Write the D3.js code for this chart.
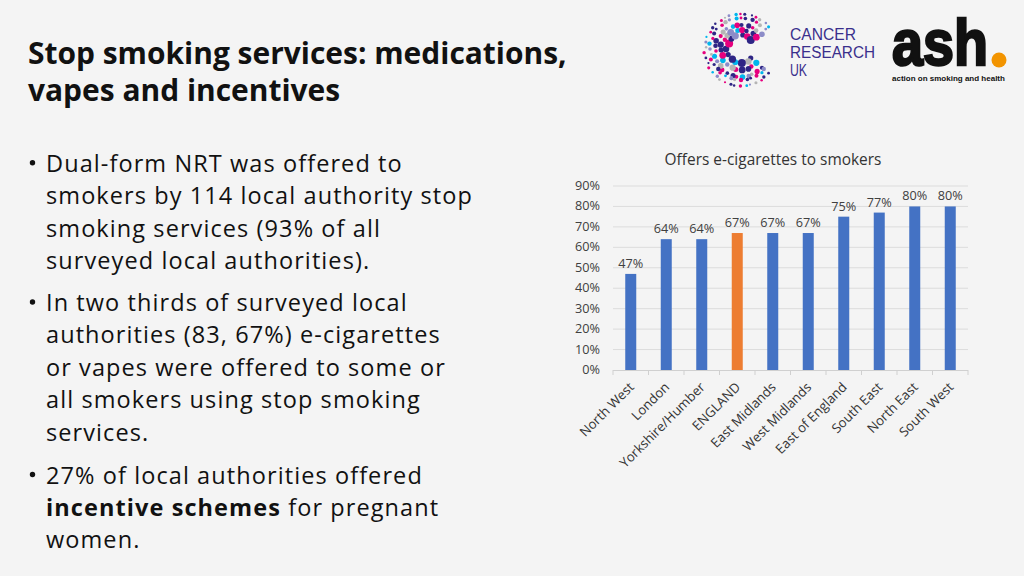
<!DOCTYPE html>
<html><head><meta charset="utf-8">
<script src="https://cdn.jsdelivr.net/npm/d3@7"></script>
<style>
html,body{margin:0;padding:0;background:#f4f4f4;}
svg{display:block;}
</style></head>
<body>
<svg id="c" width="1024" height="576"></svg>
<script>
const categories = ["North West","London","Yorkshire/Humber","ENGLAND","East Midlands","West Midlands","East of England","South East","North East","South West"];
const values = [47,64,64,67,67,67,75,77,80,80];
const highlight = ["ENGLAND"];
const yTicks = [0,10,20,30,40,50,60,70,80,90];
const chartTitle = "Offers e-cigarettes to smokers";
const titleLines = ["Stop smoking services: medications,","vapes and incentives"];
const bullets = [
  [["Dual-form NRT was offered to"],["smokers by 114 local authority stop"],["smoking services (93% of all"],["surveyed local authorities)."]],
  [["In two thirds of surveyed local"],["authorities (83, 67%) e-cigarettes"],["or vapes were offered to some or"],["all smokers using stop smoking"],["services."]],
  [["27% of local authorities offered"],[{b:"incentive schemes"}," for pregnant"],["women."]]
];

(function(){
const svg = d3.select("#c");
svg.append("rect").attr("width",1024).attr("height",576).attr("fill","#f4f4f4");
const FONT = "'Open Sans', Lato, 'Noto Sans', sans-serif";
const NARROW = "'Liberation Sans Narrow', 'Liberation Sans', Arial, sans-serif";

function measure(txt, size, weight, family){
  const t = svg.append("text").attr("font-family",family||FONT).attr("font-weight",weight||"normal")
    .attr("font-size",size).text(txt);
  const w = t.node().getComputedTextLength();
  t.remove();
  return w;
}
// font size that makes text fit a target width
function fitSize(txt, target, weight, family){
  return 100*target/measure(txt,100,weight,family);
}

// Title
const titleSize = fitSize(titleLines[0], 539, "bold");
svg.selectAll("text.title").data(titleLines).join("text")
  .attr("x",28).attr("y",(d,i)=>64+i*37)
  .attr("font-family",FONT).attr("font-weight","bold").attr("font-size",titleSize)
  .attr("fill","#111").text(d=>d);

// Bullets
const bSize = 23.5;
const widest = bullets[0][1][0];
const ls = Math.max(0,(427 - measure(widest,bSize))/(widest.length));
const lh = 32.4;
const bulletGroups = [171.7, 311, 483.5];
bullets.forEach((para,pi)=>{
  const by = bulletGroups[pi];
  svg.append("circle").attr("cx",32.5).attr("cy",by-9).attr("r",2.7).attr("fill","#111");
  para.forEach((line,li)=>{
    const t = svg.append("text").attr("x",46).attr("y",by+li*lh)
      .attr("font-family",FONT).attr("font-size",bSize).attr("letter-spacing",ls).attr("fill","#111");
    line.forEach(seg=>{
      if (typeof seg === "string") t.append("tspan").text(seg);
      else t.append("tspan").attr("font-weight","bold").text(seg.b);
    });
  });
});

// Chart
const pl = 613, pr = 968, pt = 186, pb = 370;
const x = d3.scaleBand().domain(categories).range([pl,pr]).paddingInner(0.69).paddingOuter(0.345);
const xb = d3.scaleBand().domain(categories).range([pl,pr]);
const y = d3.scaleLinear().domain([0,90]).range([pb,pt]);

svg.append("text").attr("x",773).attr("y",165).attr("text-anchor","middle")
  .attr("font-family",FONT).attr("font-size",fitSize(chartTitle,217)).attr("fill","#333").text(chartTitle);

const g = svg.append("g");
g.selectAll("line.grid").data(yTicks.filter(d=>d>0)).join("line")
  .attr("x1",pl).attr("x2",pr).attr("y1",d=>y(d)).attr("y2",d=>y(d))
  .attr("stroke","#dcdcdc").attr("stroke-width",1);
const tickSize = fitSize("90%",25);
g.selectAll("text.yt").data(yTicks).join("text")
  .attr("x",600).attr("y",d=>y(d)+4).attr("text-anchor","end")
  .attr("font-family",FONT).attr("font-size",tickSize).attr("fill","#404040")
  .text(d=>d+"%");

g.selectAll("rect.bar").data(categories).join("rect")
  .attr("x",d=>x(d)).attr("width",x.bandwidth())
  .attr("y",(d,i)=>y(values[i])).attr("height",(d,i)=>y(0)-y(values[i]))
  .attr("fill",d=>highlight.includes(d)?"#ed7d31":"#4472c4");

g.selectAll("text.val").data(categories).join("text")
  .attr("x",d=>x(d)+x.bandwidth()/2).attr("y",(d,i)=>y(values[i])-6)
  .attr("text-anchor","middle").attr("font-family",FONT).attr("font-size",tickSize).attr("fill","#404040")
  .text((d,i)=>values[i]+"%");

// x axis
g.append("line").attr("x1",pl).attr("x2",pr).attr("y1",pb+0.5).attr("y2",pb+0.5).attr("stroke","#d0d0d0");
const bounds = categories.map(c=>xb(c)).concat([pr]);
g.selectAll("line.xt").data(bounds).join("line")
  .attr("x1",d=>d).attr("x2",d=>d).attr("y1",pb).attr("y2",pb+5).attr("stroke","#d0d0d0");
const catSize = fitSize("Yorkshire/Humber",114);
g.selectAll("text.xl").data(categories).join("text")
  .attr("text-anchor","end")
  .attr("transform",d=>`translate(${x(d)+x.bandwidth()/2+4},${pb+18}) rotate(-45)`)
  .attr("font-family",FONT).attr("font-size",catSize).attr("fill","#333")
  .text(d=>d);

// CRUK logo (decorative)
const lg = svg.append("g");
const cols = ["#e6007e","#2e2585","#00b6ed","#b5b5b5","#2e2585","#e6007e","#8c8cc8"];
const cx=741, cy=50;
const radii=[14,20,26,31,36];
const sizes=[4.0,3.4,2.8,2.2,1.7];
radii.forEach((r,ri)=>{
  const n = Math.round(r*0.95);
  for(let k=0;k<n;k++){
    const a = (-140 + k*(280/(n-1))) * Math.PI/180;
    const px = cx - Math.cos(a)*r, py = cy - Math.sin(a)*r;
    const sz = sizes[ri]*(0.65+0.35*((k*7+ri*3)%5)/4);
    lg.append("circle").attr("cx",px+((k*5+ri)%3-1)).attr("cy",py+((k*3+ri)%3-1)).attr("r",sz)
      .attr("fill",ri===0&&k%2===0?"#2e2585":cols[(k*3+ri*2)%cols.length]);
  }
});
[["CANCER",40,66],["RESEARCH",58,85],["UK",76,17]].forEach(([t,yy,w])=>{
  lg.append("text").attr("x",790).attr("y",yy).attr("font-family","'Liberation Sans', Arial, sans-serif")
    .attr("font-size",16).attr("fill","#3a2f8c")
    .attr("textLength",w).attr("lengthAdjust","spacingAndGlyphs").text(t);
});
// ash logo
lg.append("text").attr("x",892).attr("y",65).attr("font-family",NARROW)
  .attr("font-weight","bold").attr("font-size",64).attr("fill","#111").attr("stroke","#111").attr("stroke-width",2.5)
  .attr("textLength",96).attr("lengthAdjust","spacingAndGlyphs").text("ash");
lg.append("circle").attr("cx",999).attr("cy",60).attr("r",7.5).attr("fill","#f29400");
const subSize = fitSize("action on smoking and health",113,"bold",NARROW);
lg.append("text").attr("x",892).attr("y",81).attr("font-family",NARROW)
  .attr("font-weight","bold").attr("font-size",subSize).attr("fill","#111")
  .text("action on smoking and health");
})();
</script>
</body></html>
